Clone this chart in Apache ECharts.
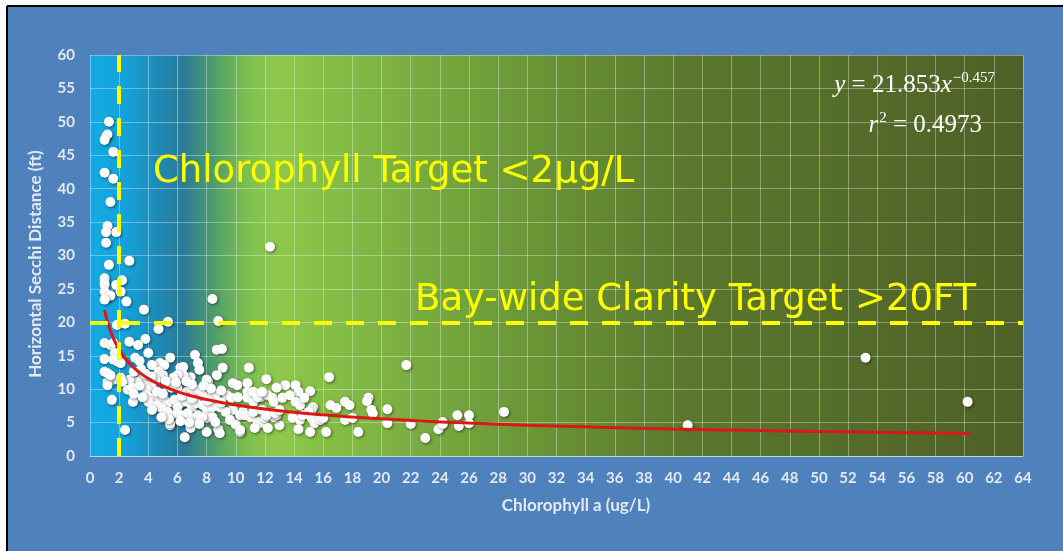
<!DOCTYPE html>
<html>
<head>
<meta charset="utf-8">
<title>Chlorophyll a vs Horizontal Secchi Distance</title>
<script src="https://cdn.jsdelivr.net/npm/echarts@6/dist/echarts.min.js"></script>
<style>
  html, body { margin: 0; padding: 0; background: #ffffff; }
  #chart { width: 1063px; height: 551px; }
</style>
</head>
<body>
<div id="chart"></div>
<script>
// Axis ticks
const xTicks = { min: 0, max: 64, step: 2 };
const yTicks = { min: 0, max: 60, step: 5 };

// Station samples: [chlorophyll a (ug/L), horizontal Secchi distance (ft)]
const samplesLow = [
  [1.3,50.0],[1.1,47.8],[1.2,48.1],[1.0,47.3],[1.6,45.5],[1.0,42.4],[1.6,41.5],[1.4,38.0],
  [1.2,34.4],[1.1,33.5],[1.8,33.5],[1.1,31.9],[2.7,29.2],[1.3,28.6],[1.0,26.6],[1.0,26.0],
  [1.0,25.6],[1.8,25.6],[2.1,24.6],[2.2,26.3],[1.0,24.6],[1.2,23.8],[1.4,24.0],[1.0,23.4],
  [2.5,23.1],[3.7,21.9],[8.4,23.5],[8.8,20.2],[5.35,20.1],[4.7,19.0],[1.85,19.6],[2.4,19.8],
  [3.8,17.5],[2.7,17.1],[1.0,16.9],[1.4,16.6],[1.6,16.9],[3.3,16.6],[8.7,15.9],[9.05,16.0],
  [7.2,15.1],[4.0,15.4],[1.7,15.4],[1.9,15.1],[1.0,14.5],[1.6,14.4],[1.9,14.1],[2.1,13.9],
  [3.1,14.7],[3.4,14.2],[5.5,14.7],[4.8,13.9],[5.1,13.6],[4.25,13.6],[6.2,13.2],[6.4,13.3],
  [7.4,13.9],[7.5,12.9],[9.1,13.2],[8.7,12.1],[6.9,11.8],[6.4,12.1],[6.0,12.1],[5.7,11.7],
  [4.7,12.6],[5.0,12.1],[4.8,11.7],[4.5,11.4],[3.6,11.7],[3.2,11.1],[2.7,11.4],[8.1,11.1],
  [8.0,11.4],[9.8,10.9],[10.1,10.6],[1.4,11.8],[1.6,11.4],[1.2,11.1],[1.2,10.6],[2.1,11.7],
  [2.2,11.1],[2.6,9.9],[2.9,10.2],[4.0,10.6],[4.25,10.2],[3.9,9.9],[5.3,10.6],[5.6,10.2],
  [5.8,10.6],[6.0,10.2],[6.65,9.6],[6.9,10.2],[7.2,9.4],[7.4,9.9],[7.75,9.1],[8.4,9.4],
  [8.6,8.8],[9.4,9.1],[9.7,8.7],[10.15,8.8],[3.9,9.1],[4.25,8.7],[4.45,8.4],[4.0,8.1],
  [4.8,8.8],[5.1,8.4],[5.35,7.9],[5.8,8.4],[6.2,7.9],[6.0,7.3],[6.65,8.1],[7.0,7.3],
  [7.3,7.9],[7.75,7.6],[8.0,6.9],[8.4,7.3],[8.9,7.3],[9.5,6.4],[9.8,6.9],[10.5,6.6],
  [4.6,7.6],[4.9,7.2],[4.25,6.9],[5.3,6.6],[5.6,6.1],[6.0,6.4],[6.3,6.1],[6.7,6.4],
  [7.1,5.7],[7.4,6.1],[8.0,5.7],[8.4,5.8],[5.5,4.6],[6.9,4.2],[6.5,2.8],[8.0,3.6],
  [8.8,4.0],[8.9,3.4],[10.3,3.6],[1.5,8.4],[2.95,8.1],[2.4,3.9],[1.0,12.6],[1.2,12.4],
  [1.4,12.1],[7.7,5.8],[9.3,6.6],[5.5,4.9],[3.0,12.6],[3.5,13.0],[3.8,12.3],[4.2,11.9],
  [5.2,11.2],[5.9,11.0],[6.6,11.2],[7.0,10.7],[7.8,10.5],[8.3,10.1],[9.0,9.8],[3.4,10.5],
  [3.0,9.3],[3.6,8.8],[4.6,9.6],[5.0,9.3],[6.3,9.0],[7.0,8.6],[8.1,8.3],[9.0,8.0],
  [5.4,5.5],[6.2,5.2],[6.8,5.0],[7.5,4.8],[9.6,5.4],[10.0,4.7],[4.9,5.8],[8.6,5.1]
];
const samplesMid = [
  [10.9,13.2],[12.1,11.5],[16.4,11.8],[21.7,13.6],[10.8,10.9],[13.4,10.6],[14.1,10.6],[12.8,10.2],
  [14.3,9.6],[15.1,9.7],[10.8,9.6],[11.1,9.3],[10.8,8.7],[11.2,8.1],[11.7,8.8],[12.2,9.1],
  [12.5,8.7],[12.6,8.1],[13.2,8.7],[13.7,9.1],[14.1,8.1],[14.4,7.6],[14.7,8.7],[15.3,7.3],
  [15.2,6.9],[15.0,6.6],[16.5,7.6],[16.9,7.2],[17.5,8.1],[17.8,7.6],[19.1,8.7],[19.0,8.2],
  [19.3,6.9],[19.4,6.4],[20.4,7.0],[10.3,6.1],[10.6,6.1],[11.0,5.8],[11.5,5.1],[11.7,4.9],
  [11.3,4.2],[12.0,5.7],[12.2,4.2],[13.0,4.6],[12.6,5.8],[12.8,6.1],[13.9,5.7],[14.4,5.4],
  [14.6,6.1],[15.2,5.7],[15.4,4.9],[15.8,5.4],[16.0,5.7],[14.3,4.0],[15.1,3.6],[16.2,3.6],
  [17.5,5.4],[18.0,5.7],[18.4,3.6],[20.4,4.9],[22.0,4.8],[23.0,2.7],[23.9,4.0],[10.3,3.9],
  [25.2,6.1],[26.0,6.1],[28.4,6.6],[24.2,5.1],[24.2,4.8],[25.3,4.5],[26.0,4.9],[11.2,9.6],
  [11.5,8.8],[11.8,9.6],[11.2,6.6],[11.8,6.9],[12.1,6.1],[12.7,6.4],[13.0,6.9]
];
const samplesHigh = [
  [12.35,31.3],[53.2,14.7],[60.2,8.1],[41.0,4.6]
];

// Power fit printed on the chart: y = a * x^b
const fitCoef = [21.853, -0.457];
const fitR2 = [0.4973];
const fitX = [1.0,1.2,1.4,1.6,1.8,2,2.3,2.6,3,3.5,4,4.5,5,6,7,8,9,10,12,14,16,18,20,23,26,30,35,40,45,50,55,60.4];

// Management targets
const chlTarget = [2];
const clarityTarget = [20];
const chlLabel = ['Chlorophyll Target <2\u03bcg/L'];
const clarityLabel = ['Bay-wide Clarity Target >20FT'];

const samples = samplesLow.concat(samplesMid, samplesHigh);
const fitLine = fitX.map(x => [x, fitCoef[0] * Math.pow(x, fitCoef[1])]);

const chart = echarts.init(document.getElementById('chart'), null, { renderer: 'canvas' });

const labelColor = '#E3E9F1';
const labelFont = 'Lato, "Open Sans", sans-serif';
const calloutFont = '"DejaVu Sans", Lato, sans-serif';
const mathFont = '"Liberation Serif", "DejaVu Serif", serif';

const plotFill = new echarts.graphic.LinearGradient(0, 0, 1, 0, [
  { offset: 0.00, color: '#12AAE3' },
  { offset: 0.035, color: '#14A4DB' },
  { offset: 0.07, color: '#1D8CBA' },
  { offset: 0.10, color: '#2B7B99' },
  { offset: 0.13, color: '#4C9A6E' },
  { offset: 0.165, color: '#7BBD50' },
  { offset: 0.20, color: '#8DC94B' },
  { offset: 0.30, color: '#7FB644' },
  { offset: 0.47, color: '#6A9636' },
  { offset: 0.65, color: '#5A772D' },
  { offset: 1.00, color: '#4E6026' }
]);

chart.setOption({
  backgroundColor: '#4F81BD',
  animation: false,
  grid: {
    left: 90, right: 40, top: 55, bottom: 95,
    show: true,
    backgroundColor: plotFill,
    borderWidth: 0
  },
  xAxis: {
    type: 'value',
    min: xTicks.min, max: xTicks.max, interval: xTicks.step,
    axisLine: { show: true, lineStyle: { color: 'rgba(255,255,255,0.45)', width: 1 } },
    axisTick: { show: false },
    axisLabel: { color: labelColor, fontFamily: labelFont, fontWeight: 'bold', fontSize: 15, margin: 15 },
    splitLine: { show: true, lineStyle: { color: 'rgba(255,255,255,0.35)', width: 1 } }
  },
  yAxis: {
    type: 'value',
    min: yTicks.min, max: yTicks.max, interval: yTicks.step,
    axisLine: { show: false },
    axisTick: { show: false },
    axisLabel: { color: labelColor, fontFamily: labelFont, fontWeight: 'bold', fontSize: 15, margin: 15 },
    splitLine: { show: true, lineStyle: { color: 'rgba(255,255,255,0.35)', width: 1 } }
  },
  series: [
    {
      name: 'Samples',
      type: 'scatter',
      data: samples,
      symbol: 'circle',
      symbolSize: 10,
      z: 3,
      itemStyle: {
        color: '#FFFFFF',
        opacity: 1,
        shadowBlur: 3,
        shadowColor: 'rgba(0,0,0,0.5)',
        shadowOffsetX: 1,
        shadowOffsetY: 1
      }
    },
    {
      name: 'Power fit',
      type: 'line',
      data: fitLine,
      smooth: true,
      showSymbol: false,
      z: 4,
      lineStyle: { color: '#DD1616', width: 3 }
    },
    {
      name: 'Targets',
      type: 'line',
      data: [],
      z: 5,
      markLine: {
        silent: true,
        symbol: ['none', 'none'],
        label: { show: false },
        lineStyle: { color: '#FFFF00', width: 4, type: [18, 14], opacity: 1 },
        data: [
          { xAxis: chlTarget[0] },
          { yAxis: clarityTarget[0] }
        ]
      }
    }
  ],
  graphic: [
    // page margin and frame
    { type: 'rect', shape: { x: 0, y: 0, width: 1063, height: 6 }, style: { fill: '#FFFFFF' }, z: 10 },
    { type: 'rect', shape: { x: 0, y: 0, width: 7, height: 551 }, style: { fill: '#FFFFFF' }, z: 10 },
    { type: 'line', shape: { x1: 7, y1: 6, x2: 7, y2: 551 }, style: { stroke: '#000000', lineWidth: 2 }, z: 11 },
    { type: 'line', shape: { x1: 7, y1: 6, x2: 1063, y2: 6 }, style: { stroke: '#000000', lineWidth: 2 }, z: 11 },
    // axis titles
    {
      type: 'text', x: 576, y: 506, z: 12,
      style: { text: 'Chlorophyll a (ug/L)', fill: labelColor, font: 'bold 17px ' + labelFont, align: 'center', verticalAlign: 'middle' }
    },
    {
      type: 'text', x: 36, y: 264, rotation: Math.PI / 2, z: 12,
      style: { text: 'Horizontal Secchi Distance (ft)', fill: labelColor, font: 'bold 17px ' + labelFont, align: 'center', verticalAlign: 'middle' }
    },
    // target annotations
    {
      type: 'text', x: 153, y: 172, z: 12,
      style: { text: chlLabel[0], fill: '#FFFF00', font: '37px ' + calloutFont, align: 'left', verticalAlign: 'middle' }
    },
    {
      type: 'text', x: 415, y: 300, z: 12,
      style: { text: clarityLabel[0], fill: '#FFFF00', font: '37px ' + calloutFont, align: 'left', verticalAlign: 'middle' }
    },
    // fit equation
    {
      type: 'text', x: 995, y: 85, z: 12,
      style: {
        text: '{i|y} = ' + fitCoef[0].toFixed(3) + '{i|x}{s|\u2212' + Math.abs(fitCoef[1]).toFixed(3) + '}',
        fill: '#FFFFFF', font: '25px ' + mathFont,
        align: 'right', verticalAlign: 'middle',
        rich: {
          i: { fontStyle: 'italic', fontFamily: mathFont, fontSize: 25, fill: '#FFFFFF' },
          s: { fontFamily: mathFont, fontSize: 15, fill: '#FFFFFF', padding: [0, 0, 14, 1] }
        }
      }
    },
    {
      type: 'text', x: 982, y: 125, z: 12,
      style: {
        text: '{i|r}{s|2} = ' + fitR2[0].toFixed(4),
        fill: '#FFFFFF', font: '25px ' + mathFont,
        align: 'right', verticalAlign: 'middle',
        rich: {
          i: { fontStyle: 'italic', fontFamily: mathFont, fontSize: 25, fill: '#FFFFFF' },
          s: { fontFamily: mathFont, fontSize: 15, fill: '#FFFFFF', padding: [0, 0, 14, 1] }
        }
      }
    }
  ]
});
</script>
</body>
</html>
